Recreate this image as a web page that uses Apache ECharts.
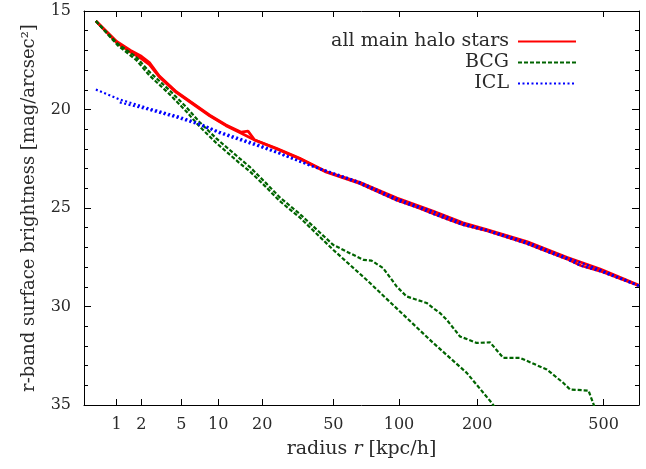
<!DOCTYPE html>
<html>
<head>
<meta charset="utf-8">
<script src="https://cdn.jsdelivr.net/npm/echarts@6/dist/echarts.min.js"></script>
<style>
  html, body { margin: 0; padding: 0; background: #fff; }
  #chart { width: 646px; height: 469px; }
</style>
</head>
<body>
<div id="chart"></div>
<script>
// Surface brightness profiles; radius axis is linear in r^(1/4)
const radiusTicks = [1, 2, 5, 10, 20, 50, 100, 200, 500];

const allRadiusA = [0.5, 1.0, 1.5, 2.0, 2.45, 3.1, 4.5, 6.3, 8.6, 11.4, 14.6, 16.2, 17.9, 24.4, 33.3, 46.2, 67, 98, 137, 178, 216, 294, 391, 489, 625];
const allMagA    = [15.51, 16.55, 17.0, 17.3, 17.62, 18.3, 19.1, 19.69, 20.29, 20.79, 21.15, 21.1, 21.55, 21.97, 22.48, 23.16, 23.7, 24.5, 25.15, 25.75, 26.1, 26.7, 27.5, 28.1, 28.92];
const allRadiusB = [0.5, 1.0, 1.5, 2.0, 2.45, 3.1, 4.5, 6.3, 8.6, 11.4, 14.6, 17.9, 24.4, 33.3, 46.2, 67, 98, 120, 137, 160, 178, 216, 294, 330, 391, 430, 489, 625];
const allMagB    = [15.51, 16.6, 17.08, 17.42, 17.72, 18.35, 19.13, 19.72, 20.32, 20.82, 21.2, 21.55, 21.99, 22.5, 23.18, 23.75, 24.6, 24.98, 25.28, 25.62, 25.85, 26.15, 26.8, 27.12, 27.58, 27.92, 28.2, 28.95];

const bcgRadiusA = [0.5, 1.03, 1.74, 2.45, 3.89, 5.51, 7.13, 9.66, 14.2, 16.6, 21.2, 25.5, 33.3, 49.9, 69.6, 75.9, 85.5, 97.7, 107.5, 129.6, 137.5, 146, 154.8, 173.5, 199.2, 222, 246, 279.8, 340, 382, 400, 453, 468.5, 490];
const bcgMagA    = [15.51, 16.66, 17.33, 18.09, 19.02, 19.87, 20.63, 21.47, 22.48, 22.91, 23.75, 24.45, 25.3, 26.87, 27.63, 27.67, 28.05, 28.98, 29.49, 29.82, 30.08, 30.33, 30.67, 31.52, 31.85, 31.82, 32.61, 32.61, 33.2, 33.88, 34.21, 34.27, 34.97, 36.0];
const bcgRadiusB = [0.5, 1.03, 1.74, 2.45, 3.89, 5.51, 7.13, 9.66, 14.2, 16.6, 21.2, 25.5, 33.3, 49.9, 72.0, 100.9, 137.5, 183.6, 224.8, 240];
const bcgMagB    = [15.51, 16.74, 17.48, 18.27, 19.22, 20.09, 20.86, 21.7, 22.72, 23.13, 23.95, 24.64, 25.48, 27.12, 28.64, 30.25, 31.85, 33.37, 34.89, 35.5];

const iclRadiusA = [0.5, 1.09, 2.45, 4.81, 7.13, 10.22, 14.2, 19.3, 25.5, 37.8, 67, 98, 137, 178, 216, 294, 391, 489, 625];
const iclMagA    = [18.99, 19.49, 19.95, 20.37, 20.71, 21.13, 21.47, 21.81, 22.2, 22.82, 23.68, 24.52, 25.17, 25.77, 26.11, 26.72, 27.52, 28.13, 28.93];
const iclRadiusB = [1.1, 2.45, 4.81, 7.13, 10.22, 14.2, 19.3, 25.5, 37.8, 67, 98, 120, 137, 160, 178, 216, 294, 330, 391, 430, 489, 625];
const iclMagB    = [19.64, 20.02, 20.45, 20.78, 21.2, 21.55, 21.89, 22.25, 22.85, 23.76, 24.62, 24.99, 25.3, 25.63, 25.86, 26.16, 26.81, 27.13, 27.6, 27.93, 28.21, 28.96];

const SERIF = '"DejaVu Serif", "Liberation Serif", serif';
const TEXT = '#2a2a2a';
const toAxis = r => Math.pow(r, 0.25);
const pairs = (rs, ms) => rs.map((r, i) => [toAxis(r), ms[i]]);
const tickPos = radiusTicks.map(toAxis);

const NAME_ALL = 'all main halo stars';
const NAME_BCG = 'BCG';
const NAME_ICL = 'ICL';

const redStyle = { color: '#ff0000', width: 2.8, type: 'solid' };
const greenStyle = { color: '#006400', width: 2.2, type: [4, 2] };
const blueStyle = { color: '#0000ff', width: 2.2, type: [2, 2.5] };

function line(name, data, style, z) {
  return {
    type: 'line', name, data, symbol: 'none', smooth: false, clip: true,
    lineStyle: style, itemStyle: { color: style.color }, z,
    emphasis: { disabled: true }, animation: false
  };
}

const xCommon = {
  type: 'value', min: 0.75, max: 5, gridIndex: 0,
  axisLine: { show: true, lineStyle: { color: '#000', width: 1 } },
  axisTick: { show: true, inside: true, length: 6, customValues: tickPos, lineStyle: { color: '#000', width: 1 } },
  splitLine: { show: false }
};
const yCommon = {
  type: 'value', inverse: true, min: 15, max: 35, interval: 5, gridIndex: 0,
  axisLine: { show: true, lineStyle: { color: '#000', width: 1 } },
  axisTick: { show: true, inside: true, length: 7, lineStyle: { color: '#000', width: 1 } },
  minorTick: { show: true, splitNumber: 5, length: 4, lineStyle: { color: '#000', width: 1 } },
  splitLine: { show: false }, minorSplitLine: { show: false }
};

function legendItem(name, top) {
  return {
    data: [name], right: 69, top, orient: 'vertical', align: 'right', padding: 0,
    itemWidth: 58, itemHeight: 14, selectedMode: false,
    itemStyle: { opacity: 0 },
    textStyle: { fontFamily: SERIF, fontSize: 19, color: TEXT, padding: [0, 4, 0, 0] }
  };
}

const option = {
  backgroundColor: '#fff',
  animation: false,
  grid: { left: 84, right: 7, top: 11, bottom: 64, containLabel: false },
  legend: [legendItem(NAME_ALL, 32), legendItem(NAME_BCG, 53), legendItem(NAME_ICL, 74)],
  xAxis: [
    Object.assign({}, xCommon, {
      position: 'bottom',
      axisLabel: {
        show: true, customValues: tickPos, margin: 12,
        formatter: v => String(Math.round(Math.pow(v, 4))),
        fontFamily: SERIF, fontSize: 16, color: TEXT
      },
      name: 'radius {i|r} [kpc/h]', nameLocation: 'middle', nameGap: 35,
      nameTextStyle: {
        fontFamily: SERIF, fontSize: 19, color: TEXT, verticalAlign: 'top',
        rich: { i: { fontFamily: SERIF, fontSize: 19, fontStyle: 'italic', color: TEXT } }
      }
    }),
    Object.assign({}, xCommon, { position: 'top', axisLabel: { show: false } })
  ],
  yAxis: [
    Object.assign({}, yCommon, {
      position: 'left',
      axisLabel: { show: true, margin: 13, fontFamily: SERIF, fontSize: 16, color: TEXT },
      name: 'r-band surface brightness [mag/arcsec²]', nameLocation: 'middle', nameGap: 46,
      nameTextStyle: { fontFamily: SERIF, fontSize: 18, color: TEXT }
    }),
    Object.assign({}, yCommon, { position: 'right', axisLabel: { show: false } })
  ],
  series: [
    line(NAME_ALL, pairs(allRadiusA, allMagA), redStyle, 2),
    line(NAME_ALL, pairs(allRadiusB, allMagB), redStyle, 2),
    line(NAME_BCG, pairs(bcgRadiusA, bcgMagA), greenStyle, 3),
    line(NAME_BCG, pairs(bcgRadiusB, bcgMagB), greenStyle, 3),
    line(NAME_ICL, pairs(iclRadiusA, iclMagA), blueStyle, 4),
    line(NAME_ICL, pairs(iclRadiusB, iclMagB), blueStyle, 4)
  ]
};

const chart = echarts.init(document.getElementById('chart'), null, { renderer: 'canvas' });
chart.setOption(option);
</script>
</body>
</html>
